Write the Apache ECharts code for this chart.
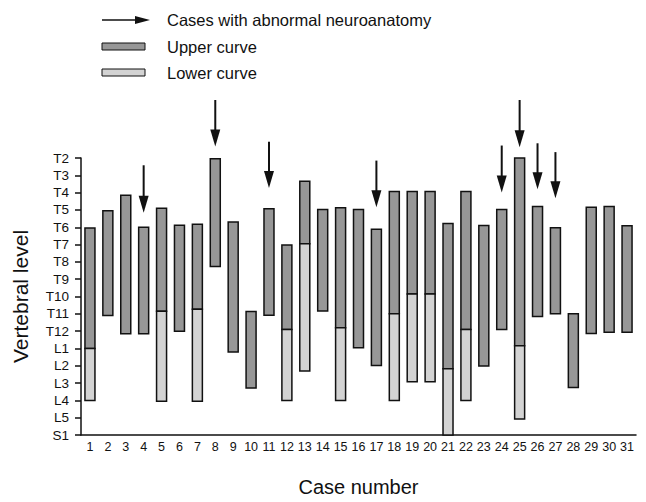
<!DOCTYPE html>
<html>
<head>
<meta charset="utf-8">
<script src="https://cdn.jsdelivr.net/npm/echarts@6/dist/echarts.min.js"></script>
<style>html,body{margin:0;padding:0;background:#fff}#c{width:646px;height:502px}</style>
</head>
<body>
<div id="c"></div>
<script>
// Vertebral levels (index 0 = T2 ... 16 = S1)
var levels = ['T2','T3','T4','T5','T6','T7','T8','T9','T10','T11','T12','L1','L2','L3','L4','L5','S1'];
var cases = ['1','2','3','4','5','6','7','8','9','10','11','12','13','14','15','16','17','18','19','20','21','22','23','24','25','26','27','28','29','30','31'];
// Upper curve: top and bottom level (index units)
var upperTop    = [4.05,3.05,2.15,4.0,2.9,3.88,3.82,0.04,3.7,8.86,2.93,5.02,1.34,2.97,2.88,2.97,4.11,1.93,1.93,1.93,3.79,1.93,3.9,2.97,0.0,2.8,4.03,9.0,2.84,2.8,3.92];
var upperBottom = [11.0,9.1,10.15,10.15,8.85,10.0,8.73,6.27,11.2,13.29,9.09,9.9,4.96,8.84,9.81,10.96,11.99,8.99,7.86,7.86,12.18,9.9,12.02,9.9,10.85,9.15,9.0,13.25,10.13,10.07,10.07];
// Lower curve: bottom level (top = upper bottom); null when absent
var lowerBottom = [14.0,null,null,null,14.05,null,14.05,null,null,null,null,14.0,12.3,null,14.0,null,null,14.0,12.93,12.93,16.0,14.0,null,null,15.07,null,null,null,null,null,null];
// Arrows: cases with abnormal neuroanatomy (tail and tip level)
var arrowCases = ['4','8','11','17','24','25','26','27'];
var arrowTail  = [0.42,-3.35,-0.94,0.15,-0.72,-3.35,-0.85,-0.34];
var arrowTip   = [3.16,-0.66,1.74,2.84,1.99,-0.62,1.8,2.33];

var FONT = '"Liberation Sans", Arial, Helvetica, sans-serif';
var upperColor = '#979797';
var lowerColor = '#d3d3d3';

var upperData = cases.map(function(c,i){ return [c, upperTop[i], upperBottom[i]]; });
var lowerData = [];
cases.forEach(function(c,i){ if (lowerBottom[i] != null) lowerData.push([c, upperBottom[i], lowerBottom[i]]); });
var arrowData = arrowCases.map(function(c,i){ return [c, arrowTail[i], arrowTip[i]]; });

function barRender(color){
  return function(params, api){
    var p1 = api.coord([api.value(0), api.value(1)]);
    var p2 = api.coord([api.value(0), api.value(2)]);
    var w = 10;
    return {
      type: 'rect',
      shape: {x: p1[0]-w/2, y: p1[1], width: w, height: p2[1]-p1[1]},
      style: {fill: color, stroke: '#111', lineWidth: 1.5}
    };
  };
}

var chart = echarts.init(document.getElementById('c'), null, {renderer: 'svg'});
chart.setOption({
  animation: false,
  grid: {left: 81, right: 10, top: 158, bottom: 62},
  xAxis: {
    type: 'category',
    data: cases,
    position: 'bottom',
    name: 'Case number',
    nameLocation: 'middle',
    nameGap: 42,
    nameTextStyle: {fontFamily: FONT, fontSize: 20, color: '#111'},
    axisLine: {onZero: false, lineStyle: {color: '#111', width: 1.5}},
    axisTick: {length: 3, lineStyle: {color: '#111'}},
    axisLabel: {fontFamily: FONT, fontSize: 12.5, color: '#111', margin: 5, interval: 0}
  },
  yAxis: {
    type: 'value',
    inverse: true,
    min: 0, max: 16, interval: 1,
    name: 'Vertebral level',
    nameLocation: 'middle',
    nameGap: 50,
    nameTextStyle: {fontFamily: FONT, fontSize: 21, color: '#111'},
    splitLine: {show: false},
    axisLine: {show: true, onZero: false, lineStyle: {color: '#111', width: 1.5}},
    axisTick: {show: true, length: 6, lineStyle: {color: '#111', width: 1.5}},
    axisLabel: {fontFamily: FONT, fontSize: 13.5, color: '#111', margin: 12,
      formatter: function(v){ return levels[Math.round(v)] || ''; }}
  },
  series: [
    {type: 'custom', name: 'Upper curve', data: upperData, encode: {x: 0, y: [1,2]}, renderItem: barRender(upperColor), clip: false, z: 2},
    {type: 'custom', name: 'Lower curve', data: lowerData, encode: {x: 0, y: [1,2]}, renderItem: barRender(lowerColor), clip: false, z: 2},
    {type: 'custom', name: 'Cases with abnormal neuroanatomy', data: arrowData, encode: {x: 0, y: [1,2]}, clip: false, z: 3,
      renderItem: function(params, api){
        var a = api.coord([api.value(0), api.value(1)]);
        var b = api.coord([api.value(0), api.value(2)]);
        var hh = 17, hw = 5;
        return {
          type: 'group',
          children: [
            {type: 'line', shape: {x1: a[0], y1: a[1], x2: b[0], y2: b[1]-hh+2}, style: {stroke: '#111', lineWidth: 2}},
            {type: 'polygon', shape: {points: [[b[0]-hw, b[1]-hh],[b[0]+hw, b[1]-hh],[b[0], b[1]]]}, style: {fill: '#111'}}
          ]
        };
      }
    }
  ],
  graphic: [
    {type: 'line', shape: {x1: 102, y1: 20, x2: 137, y2: 20}, style: {stroke: '#111', lineWidth: 1.5}},
    {type: 'polygon', shape: {points: [[135,16],[150,20],[135,24]]}, style: {fill: '#111'}},
    {type: 'text', left: 167, top: 11, style: {text: 'Cases with abnormal neuroanatomy', font: '16.5px ' + FONT, fill: '#111'}},
    {type: 'rect', shape: {x: 102, y: 43, width: 43, height: 7}, style: {fill: upperColor, stroke: '#111', lineWidth: 1}},
    {type: 'text', left: 167, top: 38, style: {text: 'Upper curve', font: '16.5px ' + FONT, fill: '#111'}},
    {type: 'rect', shape: {x: 102, y: 69, width: 43, height: 7}, style: {fill: lowerColor, stroke: '#111', lineWidth: 1}},
    {type: 'text', left: 167, top: 64, style: {text: 'Lower curve', font: '16.5px ' + FONT, fill: '#111'}}
  ]
});
</script>
</body>
</html>
